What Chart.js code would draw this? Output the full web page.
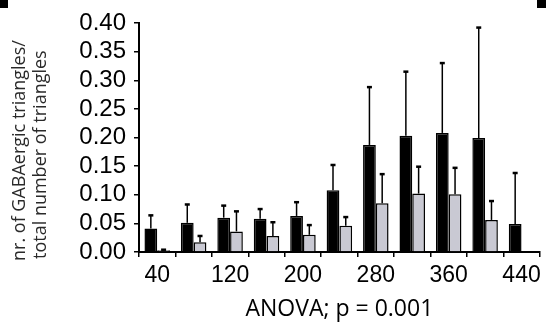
<!DOCTYPE html>
<html>
<head>
<meta charset="utf-8">
<script src="https://cdn.jsdelivr.net/npm/chart.js@4"></script>
<style>
  html, body { margin: 0; padding: 0; background: #fff; }
  #wrap { position: relative; width: 546px; height: 323px; }
  .corner { position: absolute; top: 0; width: 8px; height: 8px; background: #000; }
</style>
</head>
<body>
<div id="wrap">
  <canvas id="myChart" width="546" height="323"></canvas>
  <div class="corner" style="left:0"></div>
  <div class="corner" style="right:0;width:9px"></div>
</div>
<script>
// categories (x) and the two series with their upper error (SD)
const labels = ['40', '80', '120', '160', '200', '240', '280', '320', '360', '400', '440'];
const shownLabels = ['40', '120', '200', '280', '360', '440'];

const blackVals = [0.041, 0.051, 0.060, 0.058, 0.063, 0.108, 0.187, 0.203, 0.208, 0.199, 0.049];
const blackErr  = [0.023, 0.032, 0.021, 0.017, 0.024, 0.044, 0.101, 0.112, 0.122, 0.193, 0.089];

const grayVals = [0.003, 0.017, 0.036, 0.028, 0.030, 0.046, 0.085, 0.102, 0.101, 0.056, 0];
const grayErr  = [0.001, 0.011, 0.035, 0.024, 0.017, 0.015, 0.051, 0.047, 0.046, 0.033, 0];

const yTicks = [0, 0.05, 0.10, 0.15, 0.20, 0.25, 0.30, 0.35, 0.40];
const yTitle = ['nr. of GABAergic triangles/', 'total number of triangles'];

// upward error bars with a short cap
const errorBars = {
    id: 'errorBars',
    afterDatasetsDraw(chart) {
        const ctx = chart.ctx;
        const yScale = chart.scales.y;
        chart.data.datasets.forEach((ds, i) => {
            const meta = chart.getDatasetMeta(i);
            meta.data.forEach((bar, j) => {
                const err = ds.errors[j];
                if (!err) return;
                const top = yScale.getPixelForValue(ds.data[j] + err);
                ctx.save();
                ctx.strokeStyle = '#000';
                ctx.lineWidth = 1.5;
                ctx.beginPath();
                ctx.moveTo(bar.x, bar.y);
                ctx.lineTo(bar.x, top);
                ctx.stroke();
                ctx.lineWidth = 2.5;
                ctx.beginPath();
                ctx.moveTo(bar.x - 2.5, top);
                ctx.lineTo(bar.x + 2.5, top);
                ctx.stroke();
                ctx.restore();
            });
        });
    }
};

// y title, left-aligned a little below the axis bottom like the original
const yTitlePlugin = {
    id: 'yTitle',
    afterDraw(chart) {
        const ctx = chart.ctx;
        ctx.save();
        ctx.translate(20, chart.chartArea.bottom + 9);
        ctx.rotate(-Math.PI / 2);
        ctx.fillStyle = '#2a2a2a';
        ctx.font = '18px "Open Sans"';
        ctx.textAlign = 'left';
        ctx.textBaseline = 'middle';
        ctx.fillText(yTitle[0], 0, 0);
        ctx.fillText(yTitle[1], 2, 21);
        ctx.restore();
    }
};

new Chart(document.getElementById('myChart'), {
    type: 'bar',
    data: {
        labels: labels,
        datasets: [{
            data: blackVals,
            errors: blackErr,
            backgroundColor: '#000',
            borderColor: '#000',
            borderWidth: 1.5,
            categoryPercentage: 0.7,
            barPercentage: 1.0
        }, {
            data: grayVals,
            errors: grayErr,
            backgroundColor: '#c9c9d3',
            borderColor: '#000',
            borderWidth: 1.5,
            categoryPercentage: 0.7,
            barPercentage: 1.0
        }]
    },
    options: {
        responsive: false,
        animation: false,
        events: [],
        layout: { padding: { left: 0, right: 6, top: 23, bottom: 0 } },
        plugins: { legend: { display: false }, tooltip: { enabled: false } },
        scales: {
            x: {
                offset: true,
                grid: { offset: true, drawOnChartArea: false, color: '#000', tickLength: 5, lineWidth: 1.5 },
                border: { color: '#000', width: 2 },
                ticks: {
                    autoSkip: false,
                    maxRotation: 0,
                    color: '#000',
                    padding: 5,
                    font: { family: 'Liberation Sans', size: 23 },
                    callback: function (v) {
                        const l = labels[v];
                        return shownLabels.includes(l) ? l : '';
                    }
                },
                title: {
                    display: true,
                    text: 'ANOVA; p = 0.001',
                    color: '#000',
                    font: { family: 'Open Sans', size: 23, lineHeight: 1.2 },
                    padding: { top: 0, bottom: 0 }
                },
                afterFit: (s) => { s.height = 71; }
            },
            y: {
                min: 0,
                max: 0.4,
                afterBuildTicks: (s) => { s.ticks = yTicks.map(v => ({ value: v })); },
                grid: { drawOnChartArea: false, color: '#000', tickLength: 5, lineWidth: 1.5 },
                border: { color: '#000', width: 2 },
                ticks: {
                    autoSkip: false,
                    color: '#000',
                    padding: 8,
                    font: { family: 'Liberation Sans', size: 24 },
                    callback: (v) => Number(v).toFixed(2)
                },
                afterFit: (s) => { s.width = 139; }
            }
        }
    },
    plugins: [errorBars, yTitlePlugin]
});
</script>
</body>
</html>
